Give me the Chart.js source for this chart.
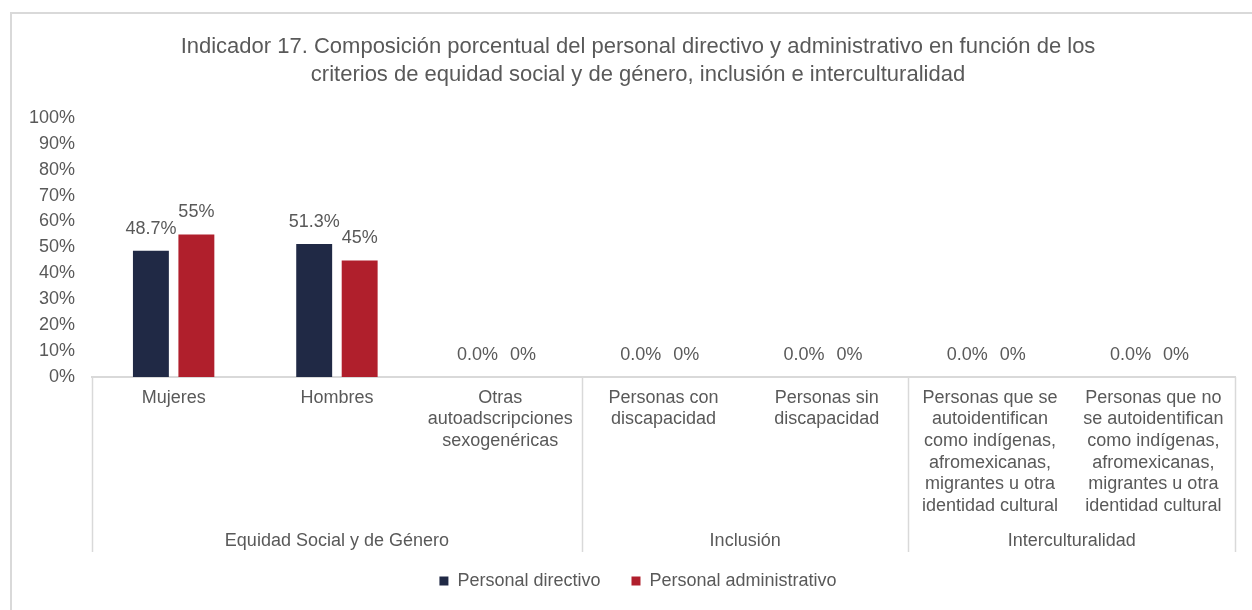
<!DOCTYPE html>
<html>
<head>
<meta charset="utf-8">
<script src="https://cdn.jsdelivr.net/npm/chart.js@4"></script>
<style>
html,body{margin:0;padding:0;background:#fff;}
#wrap{position:relative;width:1252px;height:610px;}
</style>
</head>
<body>
<div id="wrap"><canvas id="c" width="1252" height="610"></canvas></div>
<script>
// ---- data ----
const categories = [
  ["Mujeres"],
  ["Hombres"],
  ["Otras", "autoadscripciones", "sexogenéricas"],
  ["Personas con", "discapacidad"],
  ["Personas sin", "discapacidad"],
  ["Personas que se", "autoidentifican", "como indígenas,", "afromexicanas,", "migrantes u otra", "identidad cultural"],
  ["Personas que no", "se autoidentifican", "como indígenas,", "afromexicanas,", "migrantes u otra", "identidad cultural"]
];
const groups = ["Equidad Social y de Género", "Inclusión", "Interculturalidad"];
const groupSizes = [3, 2, 2];
const seriesNames = ["Personal directivo", "Personal administrativo"];
const directivo = [48.7, 51.3, 0, 0, 0, 0, 0];
const administrativo = [55, 45, 0, 0, 0, 0, 0];
const labelDecimals = [1, 0];
const titleLines = [
  "Indicador 17. Composición porcentual del personal directivo y administrativo en función de los",
  "criterios de equidad social y de género, inclusión e interculturalidad"
];

const TXT = '#595959';
const LINE = '#d9d9d9';
const FONT = "'Liberation Sans', Arial, sans-serif";

const frame = {
  id: 'frame',
  beforeDraw(chart) {
    const ctx = chart.ctx;
    ctx.save();
    ctx.fillStyle = '#fff';
    ctx.fillRect(0, 0, chart.width, chart.height);
    ctx.strokeStyle = LINE;
    ctx.lineWidth = 2;
    ctx.beginPath();
    ctx.moveTo(11, chart.height);
    ctx.lineTo(11, 13);
    ctx.lineTo(chart.width, 13);
    ctx.stroke();
    ctx.restore();
  }
};

const groupAxis = {
  id: 'groupAxis',
  afterDraw(chart) {
    const ctx = chart.ctx;
    const xs = chart.scales.x;
    const top = chart.chartArea.bottom;
    const bottom = 552;
    const n = categories.length;
    const bound = i => {
      if (i <= 0) return xs.left;
      if (i >= n) return xs.right;
      return (xs.getPixelForValue(i - 1) + xs.getPixelForValue(i)) / 2;
    };
    ctx.save();
    ctx.strokeStyle = LINE;
    ctx.lineWidth = 1.5;
    let start = 0;
    const edges = [0];
    groupSizes.forEach(s => { start += s; edges.push(start); });
    edges.forEach(e => {
      const x = Math.round(bound(e)) + 0.5;
      ctx.beginPath();
      ctx.moveTo(x, top);
      ctx.lineTo(x, bottom);
      ctx.stroke();
    });
    ctx.fillStyle = TXT;
    ctx.font = "18px " + FONT;
    ctx.textAlign = 'center';
    ctx.textBaseline = 'middle';
    for (let g = 0; g < groups.length; g++) {
      const cx = (bound(edges[g]) + bound(edges[g + 1])) / 2;
      ctx.fillText(groups[g], cx, 541);
    }
    ctx.restore();
  }
};

const valueLabels = {
  id: 'valueLabels',
  afterDatasetsDraw(chart) {
    const ctx = chart.ctx;
    ctx.save();
    ctx.fillStyle = TXT;
    ctx.font = "18px " + FONT;
    ctx.textAlign = 'center';
    ctx.textBaseline = 'middle';
    chart.data.datasets.forEach((ds, di) => {
      const meta = chart.getDatasetMeta(di);
      meta.data.forEach((bar, i) => {
        const v = ds.data[i];
        ctx.fillText(v.toFixed(labelDecimals[di]) + '%', bar.x, bar.y - 22);
      });
    });
    ctx.restore();
  }
};

new Chart(document.getElementById('c'), {
  type: 'bar',
  data: {
    labels: categories,
    datasets: [
      { label: seriesNames[0], data: directivo, backgroundColor: '#202945', borderWidth: 0,
        barPercentage: 0.79, categoryPercentage: 0.557 },
      { label: seriesNames[1], data: administrativo, backgroundColor: '#B01F2C', borderWidth: 0,
        barPercentage: 0.79, categoryPercentage: 0.557 }
    ]
  },
  options: {
    responsive: true,
    maintainAspectRatio: false,
    devicePixelRatio: 1,
    animation: false,
    layout: { padding: { left: 24, right: 0, top: 14, bottom: 10 } },
    scales: {
      x: {
        grid: { display: false, drawTicks: false },
        border: { display: true, color: LINE, width: 2 },
        ticks: {
          color: TXT, font: { size: 18, family: FONT, lineHeight: 1.2 },
          padding: 10, maxRotation: 0, minRotation: 0, autoSkip: false
        },
        afterFit(scale) { scale.height = 164; }
      },
      y: {
        min: 0, max: 100,
        grid: { display: false, drawTicks: false },
        border: { display: false },
        ticks: {
          stepSize: 10, color: TXT, font: { size: 18, family: FONT }, padding: 17,
          callback: v => v + '%'
        },
        afterFit(scale) { scale.width = 68; }
      },
      y2: {
        type: 'linear', position: 'right', display: true,
        grid: { display: false, drawTicks: false },
        border: { display: false },
        ticks: { display: false },
        afterFit(scale) { scale.width = 17; }
      }
    },
    plugins: {
      title: {
        display: true, text: titleLines, color: TXT,
        font: { size: 22, family: FONT, weight: 'normal', lineHeight: 1.27 },
        padding: { top: 19, bottom: 29 }
      },
      legend: {
        position: 'bottom',
        labels: { color: TXT, font: { size: 18, family: FONT }, boxWidth: 9, boxHeight: 9, padding: 31 }
      },
      tooltip: { enabled: false }
    }
  },
  plugins: [frame, groupAxis, valueLabels]
});
</script>
</body>
</html>
